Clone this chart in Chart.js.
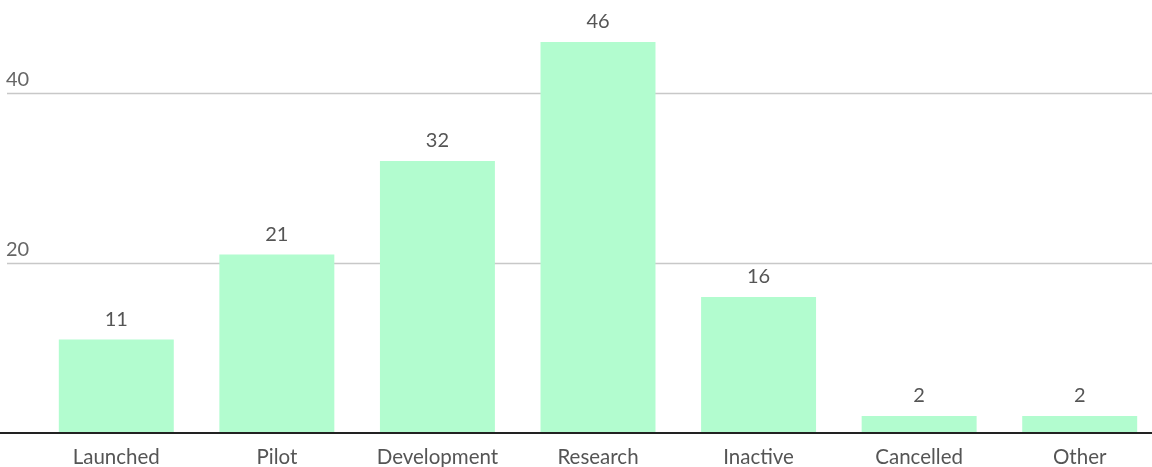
<!DOCTYPE html>
<html>
<head>
<meta charset="utf-8">
<script src="https://cdn.jsdelivr.net/npm/chart.js@4"></script>
<style>
  html, body { margin: 0; padding: 0; background: #fff; overflow: hidden; }
  #wrap { width: 1160px; height: 467px; position: relative; }
</style>
</head>
<body>
<div id="wrap"><canvas id="chart"></canvas></div>
<script>
const categories = ['Launched', 'Pilot', 'Development', 'Research', 'Inactive', 'Cancelled', 'Other'];
const values = [11, 21, 32, 46, 16, 2, 2];
const gridTicks = [20, 40];

const FONT = 'Lato, "Source Sans Pro", sans-serif';
const TEXT = '#555';

// grid lines, their labels and the dark zero line, spanning the full width
const gridPlugin = {
  id: 'gridPlugin',
  beforeDatasetsDraw(chart) {
    const ctx = chart.ctx;
    const y = chart.scales.y;
    ctx.save();
    ctx.font = '20px ' + FONT;
    ctx.textAlign = 'left';
    ctx.textBaseline = 'alphabetic';
    gridTicks.forEach(t => {
      const py = Math.round(y.getPixelForValue(t)) + 0.5;
      ctx.strokeStyle = '#c8c8c8';
      ctx.lineWidth = 1.5;
      ctx.beginPath();
      ctx.moveTo(7, py);
      ctx.lineTo(chart.width, py);
      ctx.stroke();
      ctx.fillStyle = '#666';
      ctx.fillText(String(t), 6, py - 8);
    });
    ctx.restore();
  },
  afterDatasetsDraw(chart) {
    const ctx = chart.ctx;
    const y0 = chart.scales.y.getPixelForValue(0);
    ctx.save();
    ctx.strokeStyle = '#222';
    ctx.lineWidth = 2;
    ctx.beginPath();
    ctx.moveTo(0, y0);
    ctx.lineTo(chart.width, y0);
    ctx.stroke();

    // value labels above each bar
    ctx.font = '20px ' + FONT;
    ctx.fillStyle = TEXT;
    ctx.textAlign = 'center';
    ctx.textBaseline = 'alphabetic';
    chart.getDatasetMeta(0).data.forEach((bar, i) => {
      ctx.fillText(String(values[i]), bar.x, bar.y - 14);
    });
    ctx.restore();
  }
};

new Chart(document.getElementById('chart'), {
  type: 'bar',
  data: {
    labels: categories,
    datasets: [{
      data: values,
      backgroundColor: '#b2fccf',
      borderWidth: 0,
      categoryPercentage: 1,
      barPercentage: 0.716
    }]
  },
  options: {
    responsive: true,
    maintainAspectRatio: false,
    animation: false,
    layout: { padding: { left: 36, right: 0, top: 8, bottom: 0 } },
    plugins: { legend: { display: false }, tooltip: { enabled: false } },
    scales: {
      x: {
        grid: { display: false, drawTicks: false },
        border: { display: false },
        ticks: { color: TEXT, font: { family: FONT, size: 20.5 }, padding: 12, maxRotation: 0, autoSkip: false },
        afterFit(scale) { scale.height = 34; }
      },
      y: {
        display: false,
        min: 0,
        max: 50
      }
    }
  },
  plugins: [gridPlugin]
});
</script>
</body>
</html>
